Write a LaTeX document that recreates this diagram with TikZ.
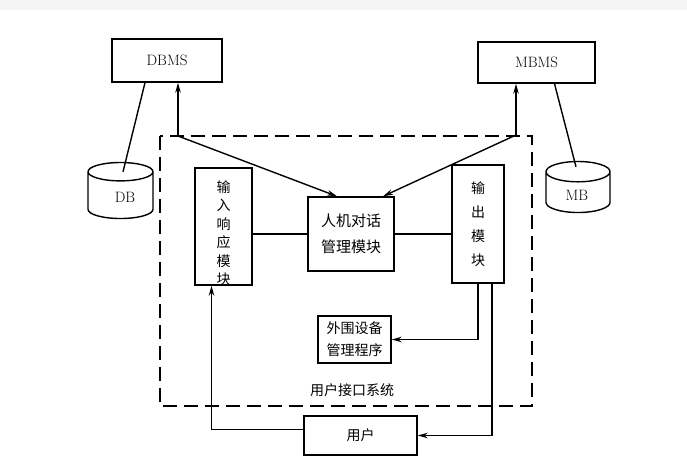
\documentclass[tikz,border=0pt]{standalone}
\usepackage{fontspec}
\usepackage{tikz}
\usetikzlibrary{shapes.geometric,arrows.meta}
\newfontfamily\cjk{Noto Sans CJK SC}

\begin{document}
\begin{tikzpicture}[x=1pt,y=-1pt,>={Stealth[length=10pt,width=5.5pt]},
    line width=1.4pt,
    box/.style={draw, inner sep=0pt},
    store/.style={draw, cylinder, shape border rotate=90, aspect=0.9, inner sep=0pt, anchor=shape center},
    zh/.style={font=\cjk\fontsize{14}{16}\selectfont},
    lat/.style={font=\fontsize{15}{17}\selectfont}]
    \useasboundingbox (0,0) rectangle (687,467);
    \fill[gray!8] (0,0) rectangle (687,10);
    % systems and stores
    \node[box, lat, minimum width=110pt, minimum height=43pt] (dbms) at (167,60.5) {DBMS};
    \node[box, lat, minimum width=117pt, minimum height=41pt] (mbms) at (536.5,62.5) {MBMS};
    \node[store, lat, minimum width=65pt, minimum height=56pt] (db) at (120.5,190.5) {\phantom{DB}};
    \node[lat] (dbtxt) at (125,197) {DB};
    \node[store, lat, minimum width=64pt, minimum height=51pt] (mb) at (578,187) {\phantom{MB}};
    \node[lat] (mbtxt) at (577,195) {MB};
    % user interface system
    \draw[dash pattern=on 14pt off 7pt] (160,136) rectangle (532,406);
    \node[zh] (uis) at (352,390) {用户接口系统};
    \node[box, minimum width=57pt, minimum height=117pt] (inbox) at (223.5,226.5) {};
    \node[zh, align=center, font=\cjk\fontsize{14}{18.5}\selectfont] (intxt) at (223.5,233) {输\\入\\响\\应\\模\\块};
    \node[box, minimum width=52pt, minimum height=118pt] (outbox) at (478,224) {};
    \node[zh, align=center, font=\cjk\fontsize{14}{24}\selectfont] (outtxt) at (478,224) {输\\出\\模\\块};
    \node[box, zh, align=center, font=\cjk\fontsize{15}{26}\selectfont,
        minimum width=86pt, minimum height=74pt] (talk) at (351,234) {人机对话\\管理模块};
    \node[box, zh, align=center, font=\cjk\fontsize{14}{22}\selectfont,
        minimum width=73pt, minimum height=47pt] (periph) at (354.5,339.5) {外围设备\\管理程序};
    \node[box, zh, minimum width=113pt, minimum height=39pt] (user) at (360.5,435.5) {用户};
    \coordinate (lt) at (178,136);
    \coordinate (rt) at (516,135);
    % connectors
    \draw ([xshift=-22pt]dbms.south) -- ([xshift=2.5pt,yshift=-10pt]db.top);
    \draw ([xshift=18pt]mbms.south) -- ([xshift=-2pt,yshift=-6pt]mb.top);
    \draw[->] (lt) -- (lt |- dbms.south);
    \draw[->] (rt) -- (rt |- mbms.south);
    \draw[->] (lt) -- ([xshift=-14pt]talk.north);
    \draw[->] (rt) -- ([xshift=32pt]talk.north);
    \draw (inbox.east |- talk.west) -- (talk.west);
    \draw (talk.east) -- (talk.east -| outbox.west);
    \draw[->] (outbox.south) |- (periph.east);
    \draw[->] ([xshift=14pt]outbox.south) |- (user.east);
    \draw[->] ([yshift=6pt]user.west) -| ([xshift=-12pt]inbox.south);
\end{tikzpicture}
\end{document}
